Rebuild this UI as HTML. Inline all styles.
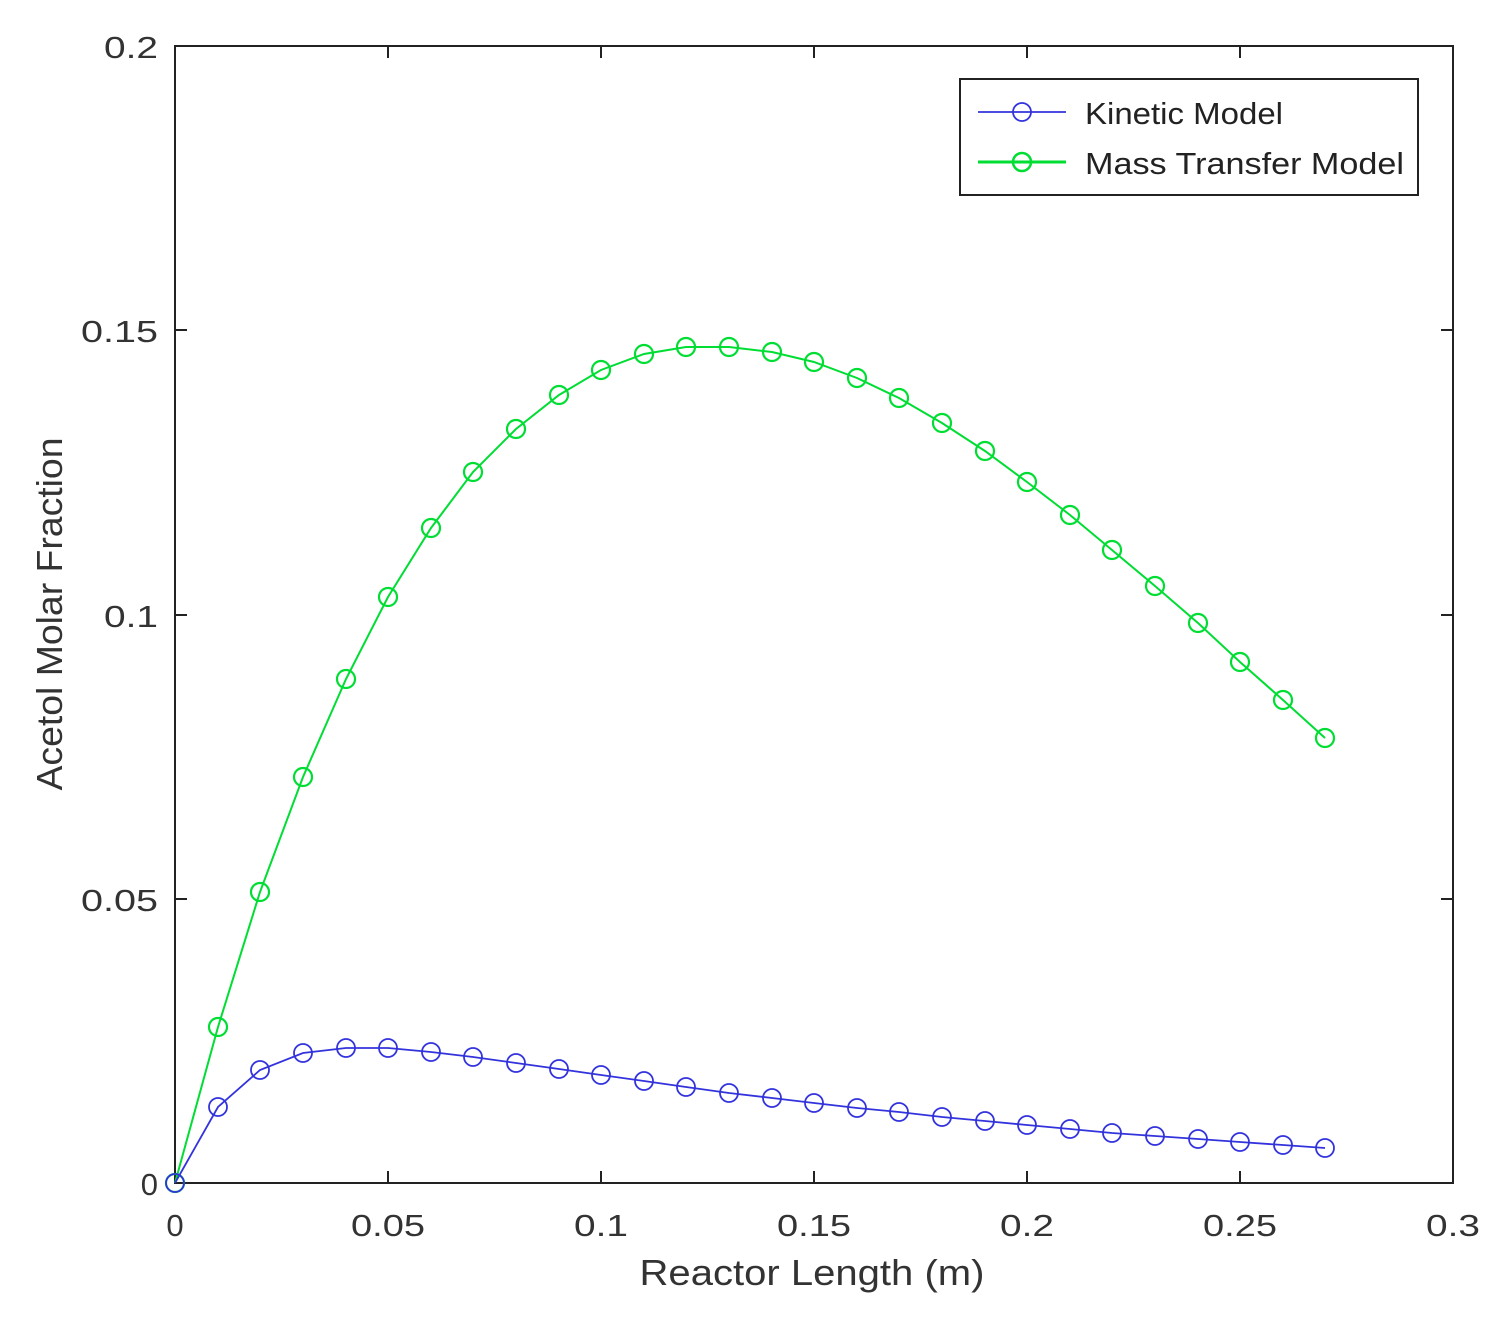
<!DOCTYPE html>
<html><head><meta charset="utf-8"><style>body{margin:0;background:#fff}svg{display:block}</style></head><body>
<svg width="1502" height="1325" xmlns="http://www.w3.org/2000/svg" font-family="Liberation Sans, sans-serif">
<rect width="1502" height="1325" fill="#fff"/>
<rect x="175" y="46" width="1278" height="1137" fill="none" stroke="#222" stroke-width="2"/>
<g stroke="#222" stroke-width="2">
<line x1="175" y1="330" x2="187" y2="330"/><line x1="1453" y1="330" x2="1441" y2="330"/>
<line x1="175" y1="615" x2="187" y2="615"/><line x1="1453" y1="615" x2="1441" y2="615"/>
<line x1="175" y1="899" x2="187" y2="899"/><line x1="1453" y1="899" x2="1441" y2="899"/>
<line x1="388" y1="1183" x2="388" y2="1171"/><line x1="388" y1="46" x2="388" y2="58"/>
<line x1="601" y1="1183" x2="601" y2="1171"/><line x1="601" y1="46" x2="601" y2="58"/>
<line x1="814" y1="1183" x2="814" y2="1171"/><line x1="814" y1="46" x2="814" y2="58"/>
<line x1="1027" y1="1183" x2="1027" y2="1171"/><line x1="1027" y1="46" x2="1027" y2="58"/>
<line x1="1240" y1="1183" x2="1240" y2="1171"/><line x1="1240" y1="46" x2="1240" y2="58"/>
</g>
<g font-size="31" fill="#333" text-anchor="end" lengthAdjust="spacingAndGlyphs">
<text x="158" y="58" textLength="54" lengthAdjust="spacingAndGlyphs">0.2</text><text x="158" y="342" textLength="77" lengthAdjust="spacingAndGlyphs">0.15</text><text x="158" y="627" textLength="54" lengthAdjust="spacingAndGlyphs">0.1</text><text x="158" y="911" textLength="77" lengthAdjust="spacingAndGlyphs">0.05</text><text x="158" y="1195">0</text>
</g>
<g font-size="31" fill="#333" text-anchor="middle">
<text x="175" y="1236">0</text><text x="388" y="1236" textLength="74" lengthAdjust="spacingAndGlyphs">0.05</text><text x="601" y="1236" textLength="54" lengthAdjust="spacingAndGlyphs">0.1</text><text x="814" y="1236" textLength="74" lengthAdjust="spacingAndGlyphs">0.15</text><text x="1027" y="1236" textLength="54" lengthAdjust="spacingAndGlyphs">0.2</text><text x="1240" y="1236" textLength="74" lengthAdjust="spacingAndGlyphs">0.25</text><text x="1453" y="1236" textLength="54" lengthAdjust="spacingAndGlyphs">0.3</text>
</g>
<text x="812" y="1285" font-size="36" fill="#333" text-anchor="middle" textLength="345" lengthAdjust="spacingAndGlyphs">Reactor Length (m)</text>
<text transform="translate(62,614) rotate(-90)" font-size="36" fill="#333" text-anchor="middle" textLength="353" lengthAdjust="spacingAndGlyphs">Acetol Molar Fraction</text>
<g fill="none" stroke="#00dd33" stroke-width="2">
<polyline points="175,1183 218,1027 260,892 303,777 346,679 388,597 431,528 473,472 516,429 559,395 601,370 644,354 686,347 729,347 772,352 814,362 857,378 899,398 942,423 985,451 1027,482 1070,515 1112,550 1155,586 1198,623 1240,662 1283,700 1325,738"/>
<g stroke-width="2.2">
<circle cx="175" cy="1183" r="9"/><circle cx="218" cy="1027" r="9"/><circle cx="260" cy="892" r="9"/><circle cx="303" cy="777" r="9"/><circle cx="346" cy="679" r="9"/><circle cx="388" cy="597" r="9"/><circle cx="431" cy="528" r="9"/><circle cx="473" cy="472" r="9"/><circle cx="516" cy="429" r="9"/><circle cx="559" cy="395" r="9"/><circle cx="601" cy="370" r="9"/><circle cx="644" cy="354" r="9"/><circle cx="686" cy="347" r="9"/><circle cx="729" cy="347" r="9"/><circle cx="772" cy="352" r="9"/><circle cx="814" cy="362" r="9"/><circle cx="857" cy="378" r="9"/><circle cx="899" cy="398" r="9"/><circle cx="942" cy="423" r="9"/><circle cx="985" cy="451" r="9"/><circle cx="1027" cy="482" r="9"/><circle cx="1070" cy="515" r="9"/><circle cx="1112" cy="550" r="9"/><circle cx="1155" cy="586" r="9"/><circle cx="1198" cy="623" r="9"/><circle cx="1240" cy="662" r="9"/><circle cx="1283" cy="700" r="9"/><circle cx="1325" cy="738" r="9"/>
</g></g>
<g fill="none" stroke="#3333dd" stroke-width="1.8">
<polyline points="175,1183 218,1107 260,1070 303,1053 346,1048 388,1048 431,1052 473,1057 516,1063 559,1069 601,1075 644,1081 686,1087 729,1093 772,1098 814,1103 857,1108 899,1112 942,1117 985,1121 1027,1125 1070,1129 1112,1133 1155,1136 1198,1139 1240,1142 1283,1145 1325,1148"/>
<circle cx="175" cy="1183" r="9"/><circle cx="218" cy="1107" r="9"/><circle cx="260" cy="1070" r="9"/><circle cx="303" cy="1053" r="9"/><circle cx="346" cy="1048" r="9"/><circle cx="388" cy="1048" r="9"/><circle cx="431" cy="1052" r="9"/><circle cx="473" cy="1057" r="9"/><circle cx="516" cy="1063" r="9"/><circle cx="559" cy="1069" r="9"/><circle cx="601" cy="1075" r="9"/><circle cx="644" cy="1081" r="9"/><circle cx="686" cy="1087" r="9"/><circle cx="729" cy="1093" r="9"/><circle cx="772" cy="1098" r="9"/><circle cx="814" cy="1103" r="9"/><circle cx="857" cy="1108" r="9"/><circle cx="899" cy="1112" r="9"/><circle cx="942" cy="1117" r="9"/><circle cx="985" cy="1121" r="9"/><circle cx="1027" cy="1125" r="9"/><circle cx="1070" cy="1129" r="9"/><circle cx="1112" cy="1133" r="9"/><circle cx="1155" cy="1136" r="9"/><circle cx="1198" cy="1139" r="9"/><circle cx="1240" cy="1142" r="9"/><circle cx="1283" cy="1145" r="9"/><circle cx="1325" cy="1148" r="9"/>
</g>
<rect x="960" y="79" width="458" height="116" fill="#fff" stroke="#222" stroke-width="2"/>
<line x1="978" y1="112" x2="1066" y2="112" stroke="#3333dd" stroke-width="1.8"/>
<circle cx="1022" cy="112" r="9" fill="none" stroke="#3333dd" stroke-width="1.8"/>
<line x1="978" y1="162" x2="1066" y2="162" stroke="#00dd33" stroke-width="3"/>
<circle cx="1022" cy="162" r="9" fill="none" stroke="#00dd33" stroke-width="2.5"/>
<g font-size="31" fill="#222"><text x="1085" y="124" textLength="198" lengthAdjust="spacingAndGlyphs">Kinetic Model</text><text x="1085" y="174" textLength="319" lengthAdjust="spacingAndGlyphs">Mass Transfer Model</text></g>
</svg>
</body></html>
